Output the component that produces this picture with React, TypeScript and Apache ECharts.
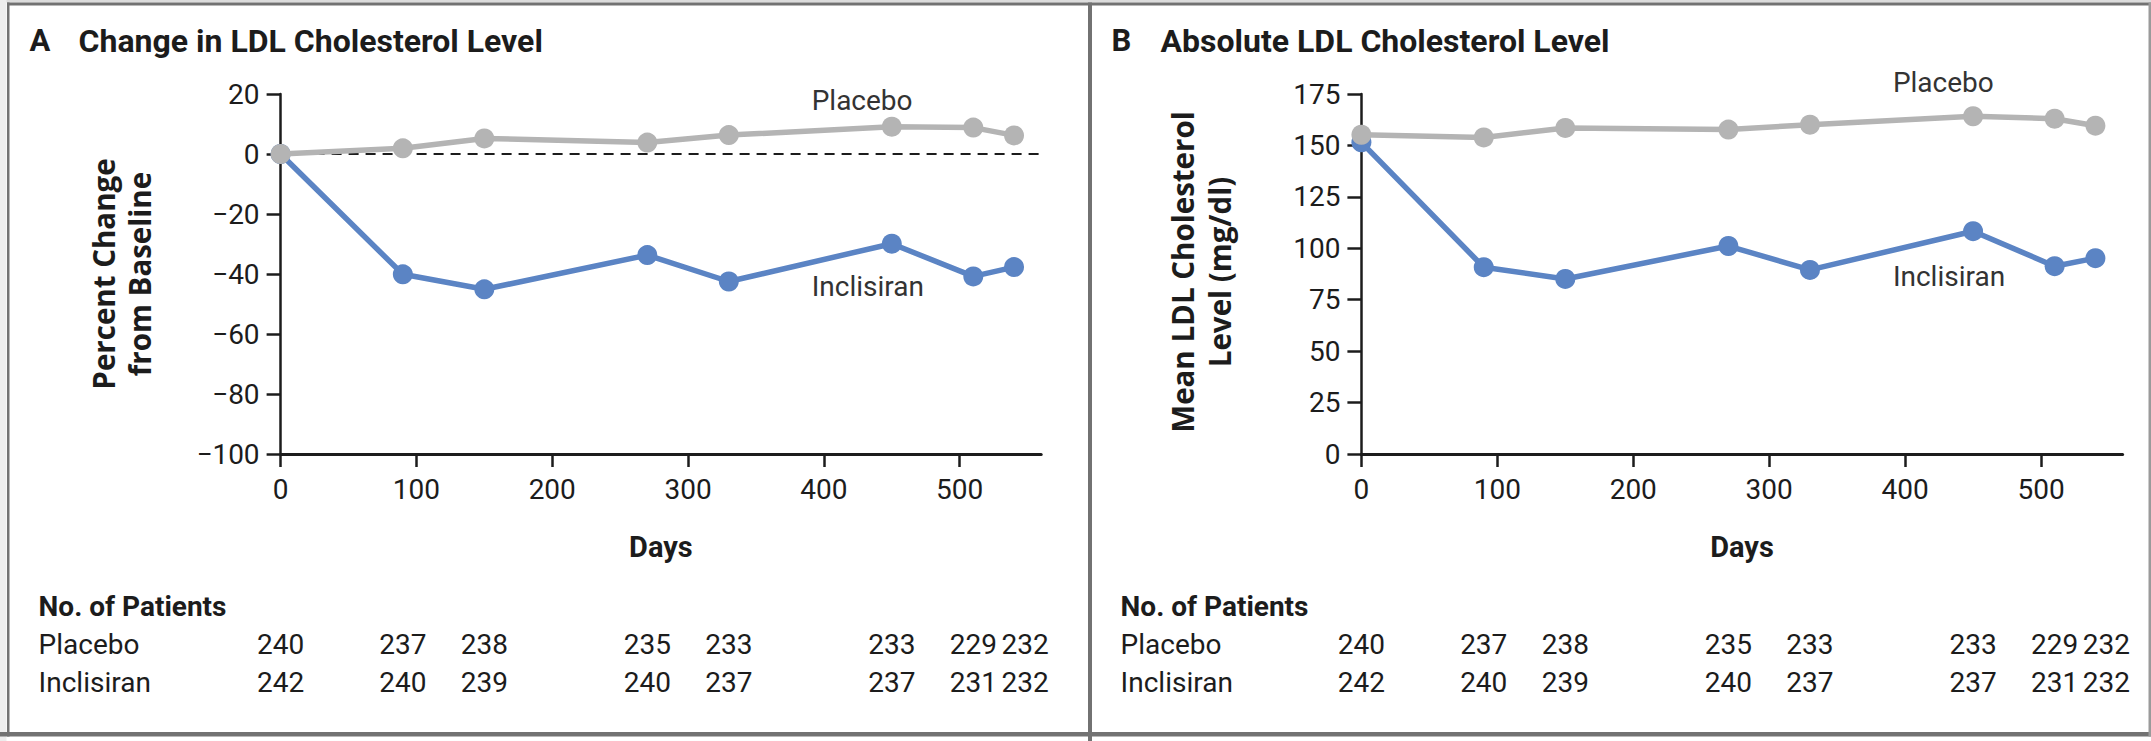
import React, { useEffect, useRef } from "react";
import * as echarts from "echarts";

// Study visit days and the values measured at each visit
const days = [0, 90, 150, 270, 330, 450, 510, 540];
const pctPlacebo = [0, 1.9, 5.2, 3.8, 6.3, 9.1, 8.8, 6.2];
const pctInclisiran = [0, -40.1, -45.1, -33.7, -42.5, -29.9, -40.8, -37.7];
const ldlPlacebo = [155.2, 153.9, 158.5, 157.7, 160.1, 164.2, 163.0, 159.6];
const ldlInclisiran = [151.5, 90.8, 85.1, 101.1, 89.5, 108.3, 91.3, 95.2];

// Patients at risk at each visit
const nPlacebo = [240, 237, 238, 235, 233, 233, 229, 232];
const nInclisiran = [242, 240, 239, 240, 237, 237, 231, 232];

// Axis ranges and tick labels
const dayTicks = [0, 100, 200, 300, 400, 500];
const dayRange = { min: 0, max: 560, step: 100 };
const pctRange = { min: -100, max: 20, step: 20 };
const ldlRange = { min: 0, max: 175, step: 25 };

const W = 2151;
const H = 741;
const INK = "#1c1c1c";
const BLUE = "#5b84c4";
const GRAY = "#b4b4b4";
const FRAME = "#727272";
const FONT = "Roboto, 'Liberation Sans', Arial, sans-serif";
const LABEL_FONT = "'Open Sans', 'Noto Sans', 'DejaVu Sans', sans-serif";

const minus = (v: number) => (v < 0 ? "\u2212" + Math.abs(v) : String(v));

function xAxisFor(gridIndex: number) {
  return {
    type: "value",
    gridIndex,
    min: dayRange.min,
    max: dayRange.max,
    interval: dayRange.step,
    name: "Days",
    nameLocation: "middle",
    nameGap: 78,
    nameTextStyle: { color: INK, fontSize: 29, fontWeight: "bold", fontFamily: FONT },
    axisLine: { show: true, onZero: false, lineStyle: { color: INK, width: 3 } },
    axisTick: { show: true, length: 13, customValues: dayTicks, lineStyle: { color: INK, width: 2.5 } },
    axisLabel: { color: INK, fontSize: 28, fontFamily: FONT, margin: 21, customValues: dayTicks },
    splitLine: { show: false },
  };
}

function yAxisFor(gridIndex: number, r: { min: number; max: number; step: number }) {
  return {
    type: "value",
    gridIndex,
    min: r.min,
    max: r.max,
    interval: r.step,
    axisLine: { show: true, onZero: false, lineStyle: { color: INK, width: 2.5 } },
    axisTick: { show: true, length: 14, lineStyle: { color: INK, width: 2.5 } },
    axisLabel: { color: INK, fontSize: 28, fontFamily: FONT, margin: 21, formatter: (v: number) => minus(v) },
    splitLine: { show: false },
  };
}

function lineSeries(name: string, values: number[], color: string, axis: number, z: number) {
  return {
    type: "line",
    name,
    xAxisIndex: axis,
    yAxisIndex: axis,
    data: days.map((d, i) => [d, values[i]]),
    symbol: "circle",
    symbolSize: 20,
    lineStyle: { color, width: 5.5 },
    itemStyle: { color },
    z,
    silent: true,
  };
}

function text(x: number, y: number, s: string, opts: any = {}) {
  return {
    type: "text",
    x,
    y,
    rotation: opts.rotation || 0,
    silent: true,
    style: {
      text: s,
      fill: opts.fill || INK,
      fontSize: opts.fontSize || 28,
      fontWeight: opts.fontWeight || "normal",
      fontFamily: opts.fontFamily || FONT,
      textAlign: opts.align || "left",
      textVerticalAlign: "middle",
    },
  };
}

export default function App() {
  const ref = useRef<HTMLDivElement>(null);

  useEffect(() => {
    if (!ref.current) return;
    const chart = echarts.init(ref.current, undefined, { renderer: "svg", width: W, height: H });

    chart.setOption({
      animation: false,
      backgroundColor: "#ffffff",
      grid: [
        { left: 280.6, top: 94, width: 760.6, height: 360 },
        { left: 1361.4, top: 94, width: 761.2, height: 360 },
      ],
      xAxis: [xAxisFor(0), xAxisFor(1)],
      yAxis: [yAxisFor(0, pctRange), yAxisFor(1, ldlRange)],
      series: [
        {
          type: "line",
          xAxisIndex: 0,
          yAxisIndex: 0,
          data: [
            [0, 0],
            [565, 0],
          ],
          symbol: "none",
          clip: false,
          lineStyle: { color: INK, width: 2, type: [10, 7] },
          z: 1,
          silent: true,
        },
        lineSeries("Inclisiran", pctInclisiran, BLUE, 0, 3),
        lineSeries("Placebo", pctPlacebo, GRAY, 0, 4),
        lineSeries("Inclisiran", ldlInclisiran, BLUE, 1, 3),
        lineSeries("Placebo", ldlPlacebo, GRAY, 1, 4),
      ],
    });

    const g: any[] = [];

    // Panel frame
    g.push({ type: "rect", shape: { x: 0, y: 0, width: W, height: 2.5 }, style: { fill: "#dcdcdc" }, silent: true });
    g.push({ type: "rect", shape: { x: 0, y: 0, width: 6.5, height: H }, style: { fill: "#ededed" }, silent: true });
    g.push({ type: "rect", shape: { x: 7, y: 2.5, width: W - 7, height: 3 }, style: { fill: FRAME }, silent: true });
    g.push({ type: "rect", shape: { x: 7, y: 2.5, width: 2.5, height: 734 }, style: { fill: FRAME }, silent: true });
    g.push({ type: "rect", shape: { x: 1088, y: 2.5, width: 4, height: H }, style: { fill: FRAME }, silent: true });
    g.push({ type: "rect", shape: { x: 0, y: 732, width: W, height: 4.5 }, style: { fill: FRAME }, silent: true });
    g.push({ type: "rect", shape: { x: 2148.5, y: 2.5, width: 2.5, height: 734 }, style: { fill: "#9a9a9a" }, silent: true });

    const panels = [
      {
        axis: 0,
        letter: "A",
        title: "Change in LDL Cholesterol Level",
        left: 0,
        ylab: ["Percent Change", "from Baseline"],
        ylabX: [103, 139],
        ylabY: 274,
        placeboAt: [391, 17.7],
        inclisiranAt: [391, -44.2],
      },
      {
        axis: 1,
        letter: "B",
        title: "Absolute LDL Cholesterol Level",
        left: 1082,
        ylab: ["Mean LDL Cholesterol", "Level (mg/dl)"],
        ylabX: [1182, 1219],
        ylabY: 272,
        placeboAt: [391, 180.8],
        inclisiranAt: [391, 86.5],
      },
    ];

    panels.forEach((p) => {
      g.push(text(29.5 + p.left, 40.5, p.letter, { fontSize: 31, fontWeight: "bold" }));
      g.push(text(78.6 + p.left, 40.5, p.title, { fontSize: 32, fontWeight: "bold" }));

      p.ylab.forEach((s, i) =>
        g.push(
          text(p.ylabX[i], p.ylabY, s, {
            rotation: Math.PI / 2,
            align: "center",
            fontSize: 29.5,
            fontWeight: "bold",
            fontFamily: LABEL_FONT,
          })
        )
      );

      const pl = chart.convertToPixel({ gridIndex: p.axis }, p.placeboAt) as number[];
      const inc = chart.convertToPixel({ gridIndex: p.axis }, p.inclisiranAt) as number[];
      g.push(text(pl[0], pl[1], "Placebo", { fill: "#333333", fontSize: 28 }));
      g.push(text(inc[0], inc[1], "Inclisiran", { fill: "#333333", fontSize: 28 }));

      // Numbers at risk
      const rowLeft = 38.6 + p.left;
      g.push(text(rowLeft, 606, "No. of Patients", { fontSize: 28, fontWeight: "bold" }));
      g.push(text(rowLeft, 644, "Placebo", { fontSize: 28 }));
      g.push(text(rowLeft, 682, "Inclisiran", { fontSize: 28 }));
      days.forEach((d, i) => {
        const x = (chart.convertToPixel({ xAxisIndex: p.axis }, d) as number) + (i === days.length - 1 ? 11 : 0);
        g.push(text(x, 644, String(nPlacebo[i]), { align: "center", fontSize: 28 }));
        g.push(text(x, 682, String(nInclisiran[i]), { align: "center", fontSize: 28 }));
      });
    });

    chart.setOption({ graphic: g });

    return () => chart.dispose();
  }, []);

  return (
    <div
      ref={ref}
      style={{ position: "absolute", left: 0, top: 0, width: W, height: H, background: "#ffffff" }}
    />
  );
}
